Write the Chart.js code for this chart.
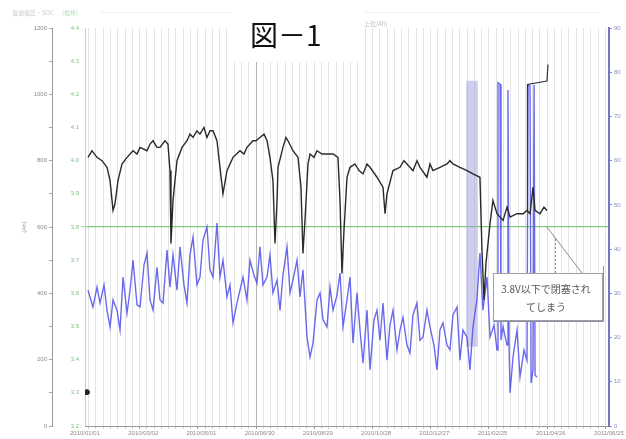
<!DOCTYPE html>
<html>
<head>
<meta charset="utf-8">
<script src="https://cdn.jsdelivr.net/npm/chart.js@4/dist/chart.umd.min.js"></script>
<style>
html,body{margin:0;padding:0;background:#fff}
#wrap{width:626px;height:439px;position:relative}
</style>
</head>
<body>
<div id="wrap"><canvas id="c" width="626" height="439"></canvas></div>
<script>
// x axis: days since the first date label, one label every 60 days
const xTickDays = [0, 60, 120, 180, 240, 300, 360, 420, 480, 540];
const xTickLabels = ['2010/01/01', '2010/03/02', '2010/05/01', '2010/06/30', '2010/08/29',
                     '2010/10/28', '2010/12/27', '2011/02/25', '2011/04/26', '2011/06/25'];

// cell voltage [day, V]
const cellVoltage = [
  [3.1,4.01],[7.2,4.03],[12.4,4.01],[17.5,4.00],[22.7,3.98],[25.8,3.94],[28.9,3.85],[30.9,3.87],
  [34.0,3.94],[38.1,3.99],[43.3,4.01],[49.5,4.03],[53.6,4.02],[56.7,4.04],[63.9,4.03],[67.0,4.05],
  [70.1,4.06],[74.2,4.04],[77.3,4.04],[82.4,4.06],[85.5,4.05],[87.6,3.97],[88.6,3.75],[90.7,3.88],
  [94.8,4.00],[100.0,4.04],[105.1,4.06],[108.2,4.08],[111.3,4.07],[115.4,4.09],[118.5,4.08],[122.6,4.10],
  [125.7,4.07],[128.8,4.09],[131.9,4.09],[136.0,4.06],[139.1,3.98],[142.2,3.90],[146.3,3.97],[152.5,4.01],
  [159.7,4.03],[163.8,4.02],[166.9,4.04],[173.1,4.06],[176.2,4.06],[180.3,4.07],[184.5,4.08],[187.6,4.06],
  [190.6,4.01],[193.7,3.94],[195.8,3.75],[197.9,3.88],[198.9,3.98],[204.0,4.04],[207.1,4.07],[209.2,4.06],
  [214.3,4.03],[219.5,4.01],[222.6,3.92],[224.6,3.72],[226.7,3.82],[229.8,3.99],[231.9,4.02],[236.0,4.01],
  [239.1,4.03],[244.2,4.02],[249.4,4.02],[255.6,4.02],[260.7,4.01],[262.8,3.88],[264.8,3.66],[266.9,3.79],
  [270.0,3.95],[273.1,3.98],[278.2,3.99],[282.4,3.97],[286.5,3.96],[290.6,3.99],[293.7,3.98],[300.9,3.95],
  [307.1,3.92],[309.2,3.84],[311.2,3.90],[317.4,3.97],[324.6,3.98],[328.7,4.00],[331.8,3.99],[338.0,3.97],
  [342.1,4.00],[345.2,3.98],[352.4,3.95],[355.5,3.99],[358.6,3.97],[365.8,3.98],[373.0,3.99],[376.1,4.00],
  [379.2,3.99],[386.4,3.98],[393.7,3.97],[399.8,3.96],[407.0,3.95],[409.1,3.73],[411.2,3.58],[413.2,3.69],
  [415.3,3.75],[417.4,3.81],[420.4,3.88],[424.6,3.84],[430.8,3.82],[434.9,3.86],[438.0,3.83],[445.2,3.84],
  [451.4,3.84],[455.5,3.85],[458.6,3.84],[461.7,3.92],[463.7,3.85],[468.9,3.84],[473.0,3.86],[476.1,3.85]
];

// cell voltage while the logger reads out of range [day, V]
const cellVoltageHigh = [[455.5,3.85],[456.0,4.23],[476.1,4.24],[477.1,4.29]];

// state of charge [day, %]
const soc = [
  [3.1,30.7],[8.2,26.9],[12.4,31.4],[15.5,27.8],[19.6,31.9],[22.7,26.2],[25.8,22.4],[28.9,28.5],
  [33.0,26.2],[36.1,21.7],[39.2,33.7],[43.3,25.5],[46.4,30.7],[49.5,37.5],[53.6,27.4],[56.7,26.9],
  [60.8,36.4],[63.9,39.1],[67.0,28.5],[70.1,26.2],[74.2,35.9],[77.3,28.5],[80.4,27.8],[84.5,39.8],
  [87.6,31.4],[90.7,38.7],[94.8,30.7],[97.9,40.5],[102.0,31.9],[105.1,27.8],[108.2,38.7],[111.3,42.7],
  [115.4,31.9],[118.5,33.7],[121.6,42.1],[125.7,45.0],[128.8,35.3],[131.9,33.7],[136.0,45.9],[139.1,33.7],
  [142.2,37.5],[146.3,29.2],[149.4,31.9],[152.5,23.3],[156.6,27.8],[159.7,30.7],[162.8,33.7],[166.9,28.5],
  [170.0,37.5],[174.2,34.1],[177.2,32.3],[180.3,40.5],[183.4,31.9],[187.6,33.7],[190.6,38.7],[193.7,30.1],
  [197.9,33.0],[201.0,26.2],[204.0,34.1],[208.2,40.5],[211.3,30.1],[214.3,33.0],[218.5,37.5],[221.6,29.2],
  [224.6,35.3],[228.8,20.1],[231.9,15.6],[235.0,18.8],[239.1,28.5],[242.2,30.1],[245.3,24.0],[249.4,22.4],
  [252.5,31.4],[255.6,26.2],[259.7,29.6],[262.8,34.6],[265.9,22.4],[270.0,28.5],[273.1,33.7],[276.2,18.8],
  [280.3,30.1],[283.4,21.7],[286.5,14.2],[290.6,26.2],[293.7,12.7],[297.8,24.0],[300.9,26.2],[304.0,19.4],
  [307.1,27.8],[311.2,14.9],[314.3,22.8],[317.4,26.2],[321.5,17.2],[324.6,21.7],[327.7,24.6],[331.8,18.3],
  [334.9,16.5],[338.0,25.1],[342.1,27.8],[345.2,19.4],[348.3,20.1],[352.4,26.2],[355.5,22.4],[359.6,18.3],
  [362.7,12.7],[365.8,21.7],[368.9,23.3],[373.0,18.3],[376.1,17.2],[379.2,25.1],[383.4,26.9],[386.4,14.9],
  [389.5,21.7],[393.7,20.1],[396.7,12.7],[399.8,22.4],[403.9,28.5],[407.0,39.1],[410.1,26.2],[414.3,33.7],
  [417.4,20.1],[421.5,22.8],[424.6,17.2],[425.6,77.6],[427.7,77.3],[428.7,19.4],[430.8,22.4],[434.9,18.3],
  [435.9,76.0],[437.0,18.3],[438.0,7.5],[441.1,15.6],[445.2,21.7],[448.3,11.1],[452.4,17.2],[455.5,14.9],
  [456.6,77.1],[458.6,76.9],[459.7,9.7],[461.7,12.7],[462.8,77.1],[463.8,11.5],[465.8,11.1]
];

// period with no valid SOC reading [day, [from %, to %]]
const socGap = [[398.8, [18, 78]]];

// single current reading at the start [day, Ah]
const currentStart = [[2, 102]];

// value marked by the note box [day, V]
const noteTarget = [476, 3.80];

const toXY = arr => arr.map(p => ({x: p[0], y: p[1]}));

Chart.defaults.font.family = '"Liberation Sans", "DejaVu Sans", sans-serif';

const overlay = {
  id: 'overlay',
  beforeDraw(chart) {
    const c = chart.ctx;
    c.save();
    c.fillStyle = '#fff';
    c.fillRect(0, 0, chart.width, chart.height);
    // faint header texts
    c.font = '6px "Noto Sans CJK JP"';
    c.fillStyle = '#c8c8c8';
    c.textBaseline = 'middle';
    c.fillText('電池電圧・SOC', 12, 13);
    c.fillStyle = '#bfe0bf';
    c.fillText('(推移)', 62, 13);
    c.fillStyle = '#bdbdbd';
    c.fillText('上位(Ah)', 364, 24);
    c.strokeStyle = '#efefef';
    c.lineWidth = 1;
    c.beginPath(); c.moveTo(100, 12.5); c.lineTo(600, 12.5); c.stroke();
    c.restore();
  },
  afterDraw(chart) {
    const c = chart.ctx;
    const xs = chart.scales.x, yv = chart.scales.yV;
    const tx = xs.getPixelForValue(noteTarget[0]);
    const ty = yv.getPixelForValue(noteTarget[1]);
    c.save();
    // leader lines
    c.strokeStyle = '#8c8c8c';
    c.lineWidth = 1;
    c.beginPath(); c.moveTo(582, 273); c.lineTo(tx, ty); c.stroke();
    c.setLineDash([2, 2]);
    c.beginPath(); c.moveTo(555.5, 273); c.lineTo(555.5, ty + 12); c.stroke();
    c.setLineDash([]);
    // note box
    c.fillStyle = '#fff';
    c.fillRect(493, 273, 110, 48);
    c.strokeStyle = '#a0a0a0';
    c.strokeRect(493.5, 273.5, 109, 47);
    c.strokeStyle = '#8a8ab4';
    c.beginPath(); c.moveTo(603.5, 266); c.lineTo(603.5, 321.5); c.lineTo(493, 321.5); c.stroke();
    c.fillStyle = '#555';
    c.font = '10px "Noto Sans CJK JP"';
    c.textAlign = 'center';
    c.textBaseline = 'middle';
    c.fillText('3.8V以下で閉塞され', 546, 289);
    c.fillText('てしまう', 546, 307);
    // figure caption
    c.fillStyle = '#fff';
    c.fillRect(232, 3, 132, 59);
    c.fillStyle = '#111';
    c.font = '28px "Noto Sans CJK JP"';
    c.textAlign = 'left';
    c.textBaseline = 'alphabetic';
    c.fillText('図－1', 250, 46);
    c.restore();
  }
};

const isLabelDay = v => xTickDays.some(d => Math.abs(d - v) < 1e-6);

new Chart(document.getElementById('c'), {
  type: 'line',
  data: {
    datasets: [
      {
        label: '電圧',
        data: toXY(cellVoltage),
        yAxisID: 'yV',
        borderColor: '#2a2a2a',
        borderWidth: 1.4,
        pointRadius: 0,
        order: 0
      },
      {
        label: '電圧(上限)',
        data: toXY(cellVoltageHigh),
        yAxisID: 'yV',
        borderColor: '#2e2e44',
        borderWidth: 1.2,
        pointRadius: 0,
        order: 0
      },
      {
        label: '電流',
        data: toXY(currentStart),
        yAxisID: 'yI',
        showLine: false,
        pointRadius: 2.5,
        pointBackgroundColor: '#222',
        pointBorderColor: '#222',
        order: 0
      },
      {
        label: 'SOC',
        data: toXY(soc),
        yAxisID: 'ySOC',
        borderColor: 'rgba(80,80,235,0.85)',
        borderWidth: 1.4,
        pointRadius: 0,
        order: 1
      },
      {
        type: 'bar',
        label: '欠測',
        data: toXY(socGap),
        yAxisID: 'ySOC',
        backgroundColor: 'rgba(160,160,220,0.5)',
        borderWidth: 0,
        barThickness: 11,
        order: 2
      }
    ]
  },
  options: {
    responsive: false,
    animation: false,
    devicePixelRatio: 1,
    layout: {padding: {top: 28, left: 0, right: 0, bottom: 0}},
    plugins: {legend: {display: false}, tooltip: {enabled: false}},
    scales: {
      x: {
        type: 'linear',
        position: 'bottom',
        min: 0,
        max: 540,
        offset: false,
        ticks: {
          stepSize: 7.5,
          autoSkip: false,
          maxRotation: 0,
          padding: 1,
          font: {size: 6},
          color: '#8a8a8a',
          callback: v => {
            const i = xTickDays.findIndex(d => Math.abs(d - v) < 1e-6);
            return i >= 0 ? xTickLabels[i] : '';
          }
        },
        grid: {
          color: ctx => (ctx.tick && Math.abs(ctx.tick.value - 180) < 1e-6) ? '#b4b4b4' : '#e4e4e4',
          tickColor: ctx => (ctx.tick && isLabelDay(ctx.tick.value)) ? '#999' : '#d0d0d0',
          tickLength: 3
        },
        border: {color: '#9a9a9a'},
        afterFit: s => { s.height = 13; }
      },
      yI: {
        type: 'linear',
        position: 'left',
        weight: 2,
        min: 0,
        max: 1200,
        ticks: {
          stepSize: 100,
          padding: 2,
          font: {size: 6},
          color: '#8a8a8a',
          callback: v => (v % 200 === 0 ? String(v) : '')
        },
        grid: {drawOnChartArea: false, tickColor: '#a8a8a8', tickLength: 3},
        border: {color: '#9a9a9a'},
        title: {display: true, text: '(Ah)', font: {size: 6}, color: '#999', padding: {top: 21, bottom: 0}},
        afterFit: s => { s.width = 52; }
      },
      yV: {
        type: 'linear',
        position: 'left',
        weight: 1,
        min: 3.2,
        max: 4.4,
        ticks: {
          stepSize: 0.1,
          padding: 2,
          font: {size: 6},
          color: '#86bb86',
          callback: v => v.toFixed(1)
        },
        grid: {
          color: ctx => (ctx.tick && Math.abs(ctx.tick.value - 3.8) < 1e-3) ? '#7ccc7c' : 'rgba(0,0,0,0)',
          lineWidth: ctx => (ctx.tick && Math.abs(ctx.tick.value - 3.8) < 1e-3) ? 1.2 : 0,
          tickColor: '#b0d8b0',
          tickLength: 4,
          z: 0
        },
        border: {color: '#b6dcb6'},
        afterFit: s => { s.width = 33; }
      },
      ySOC: {
        type: 'linear',
        position: 'right',
        min: 0,
        max: 90,
        ticks: {stepSize: 10, padding: 2, font: {size: 6}, color: '#8c8cc4'},
        grid: {drawOnChartArea: false, tickColor: '#9090cc', tickLength: 3},
        border: {color: '#7474c8', width: 2},
        afterFit: s => { s.width = 17; }
      }
    }
  },
  plugins: [overlay]
});
</script>
</body>
</html>
